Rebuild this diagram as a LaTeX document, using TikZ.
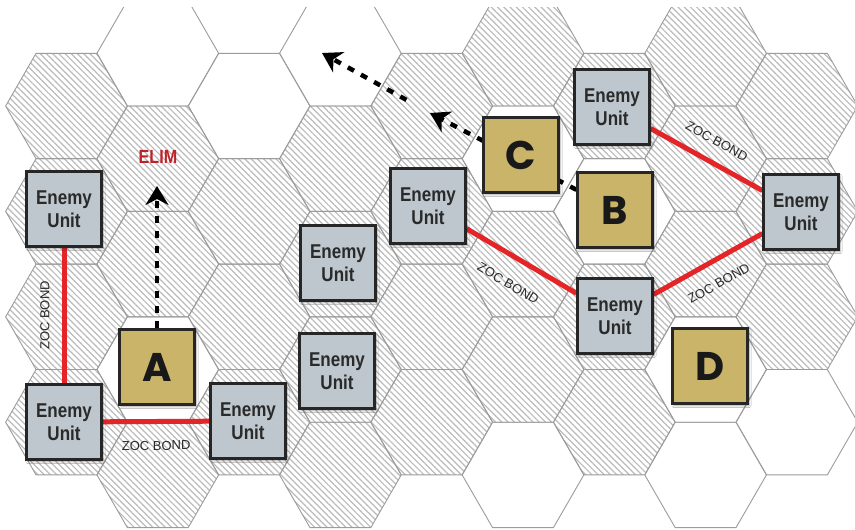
\documentclass[tikz,border=0pt]{standalone}
\usepackage{fontspec}
\setmainfont{Liberation Sans}
\newfontfamily\unitfont[FakeStretch=0.85]{Liberation Sans}
\newfontfamily\letterfont{Poppins}
\usepackage{xcolor}
\definecolor{EnemyGray}{HTML}{BDC7CD}
\definecolor{FriendTan}{HTML}{C9B46A}
\definecolor{BoxEdge}{HTML}{262626}
\definecolor{ZocRed}{HTML}{E42528}
\definecolor{ElimRed}{HTML}{BE2229}
\definecolor{HexGray}{HTML}{9C9C9C}
\definecolor{HatchGray}{HTML}{BBBBBB}
\definecolor{TextGray}{HTML}{2A2A2A}
\usetikzlibrary{arrows.meta,patterns.meta,shadows.blur}

\pgfdeclarelayer{grid}
\pgfdeclarelayer{links}
\pgfsetlayers{grid,links,main}

% one hex of the map: column, half-row, style
\newcommand{\hexat}[3]{%
  \path[#3] (66.5+91.3*#1, 106+52.7*#2)
    +(0:60.85) -- +(60:60.85) -- +(120:60.85) -- +(180:60.85)
    -- +(240:60.85) -- +(300:60.85) -- cycle;}

\begin{document}
\begin{tikzpicture}[
  x=1pt, y=-1pt,
  hexline/.style={draw=HexGray, line width=0.9pt},
  hatched/.style={pattern={Lines[angle=-45,distance=4.4pt,line width=1.2pt]},
                  pattern color=HatchGray},
  enemy/.style={
    rectangle, draw=BoxEdge, line width=2.2pt,
    fill=EnemyGray, text=TextGray,
    font=\unitfont\bfseries\fontsize{20}{23}\selectfont,
    minimum size=75pt, inner sep=0pt, align=center,
    blur shadow={shadow xshift=1.5pt, shadow yshift=-2pt,
                 shadow blur steps=6, shadow opacity=35},
  },
  friend/.style={
    enemy, fill=FriendTan, text=black!90,
    font=\letterfont\bfseries\fontsize{40}{40}\selectfont,
  },
  zoc/.style={draw=ZocRed, line width=5pt},
  move/.style={draw=black, line width=4.5pt, dash pattern=on 7pt off 8pt,
               -{Stealth[length=19pt,width=23pt,inset=6pt]}},
  zoclbl/.style={sloped, inner sep=0pt, text=TextGray,
                 font=\fontsize{13}{13}\selectfont},
  elimlbl/.style={text=ElimRed, font=\unitfont\bfseries\fontsize{19}{19}\selectfont},
]
  \useasboundingbox (0,0) rectangle (855,530);

  % units
  \node[enemy] (e1) at (64,209) {Enemy\\Unit};
  \node[enemy] (e2) at (64,422) {Enemy\\Unit};
  \node[enemy] (e3) at (248,421) {Enemy\\Unit};
  \node[enemy] (e4) at (337,371) {Enemy\\Unit};
  \node[enemy] (e5) at (338,263) {Enemy\\Unit};
  \node[enemy] (e6) at (428,206) {Enemy\\Unit};
  \node[enemy] (e7) at (612,107) {Enemy\\Unit};
  \node[enemy] (e8) at (801,212) {Enemy\\Unit};
  \node[enemy] (e9) at (615,316) {Enemy\\Unit};

  \node[friend] (a) at (157,367) {A};
  \node[friend] (b) at (615,210) {B};
  \node[friend] (c) at (521,155) {C};
  \node[friend] (d) at (710,366) {D};

  \node[elimlbl] (elim) at (158,157) {ELIM};
  \coordinate (elimTip) at (157,186);
  \coordinate (tipC) at (430,113);
  \coordinate (tipF) at (322,53);

  % hex map
  \begin{pgfonlayer}{grid}
    \fill[white] (0,0) rectangle (855,530);
    \begin{scope}
      \clip (0,7) rectangle (855,530);
      \foreach \c/\k in {0/0,0/2,0/4,0/6, 1/1,1/3,1/7, 2/2,2/4,2/6,
                         3/1,3/3,3/5,3/7, 4/0,4/2,4/4,4/6, 5/-1,5/3,5/5,
                         6/0,6/4,6/6, 7/-1,7/1,7/3, 8/0,8/2,8/4}
        {\hexat{\c}{\k}{hatched}}
      \foreach \c/\k in {0/0,0/2,0/4,0/6, 1/-1,1/1,1/3,1/5,1/7, 2/0,2/2,2/4,2/6,
                         3/-1,3/1,3/3,3/5,3/7, 4/0,4/2,4/4,4/6,
                         5/-1,5/1,5/3,5/5,5/7, 6/0,6/2,6/4,6/6,
                         7/-1,7/1,7/3,7/5,7/7, 8/0,8/2,8/4,8/6}
        {\hexat{\c}{\k}{hexline}}
    \end{scope}
  \end{pgfonlayer}

  \begin{pgfonlayer}{links}
    % zoc bonds
    \draw[zoc] (e2) -- node[zoclbl, above=12pt] {ZOC BOND} (e1);
    \draw[zoc] (e2) -- node[zoclbl, below=17pt] {ZOC BOND} (e3);
    \draw[zoc] (e6) -- node[zoclbl, below=19pt] {ZOC BOND} (e9);
    \draw[zoc] (e7) -- node[zoclbl, above=14pt] {ZOC BOND} (e8);
    \draw[zoc] (e9) -- node[zoclbl, below=15pt] {ZOC BOND} (e8);

    % moves
    \draw[move] (a) -- (elimTip);
    \draw[move] (b) -- (tipC);
    \draw[move, shorten <=27pt] (tipC) -- (tipF);
  \end{pgfonlayer}
\end{tikzpicture}
\end{document}
